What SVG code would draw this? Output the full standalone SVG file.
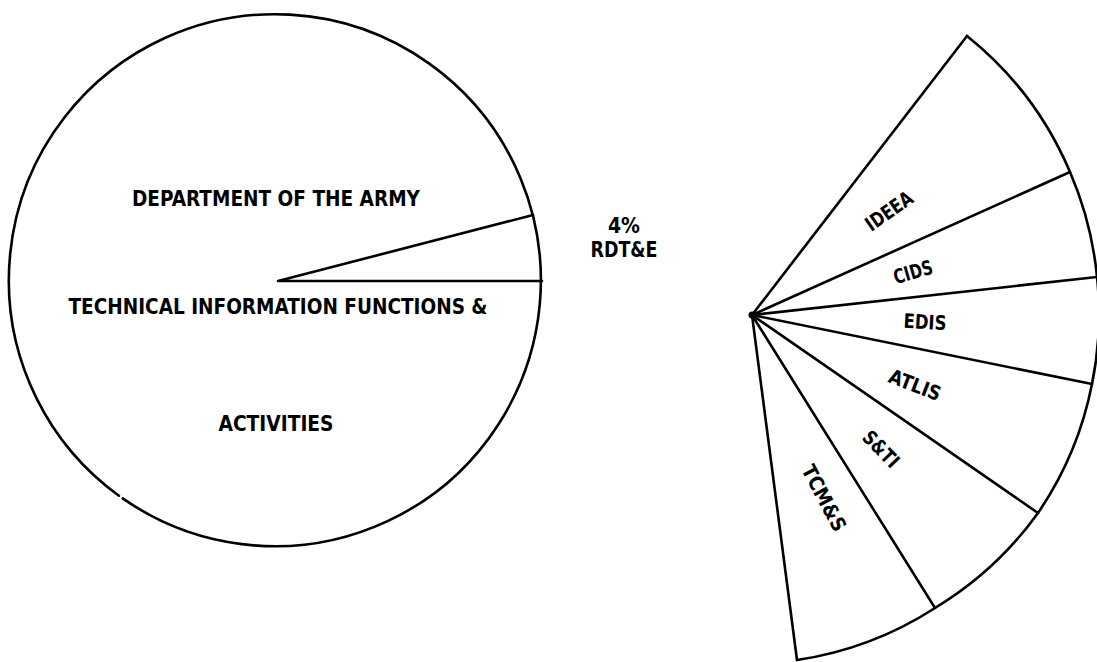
<svg xmlns="http://www.w3.org/2000/svg" width="1097" height="662" viewBox="0 0 1097 662">
<style>
.ln{fill:none;stroke:#000;stroke-width:2.6;stroke-linecap:round;stroke-linejoin:round}
.t{font-family:'DejaVu Sans Condensed','DejaVu Sans','Liberation Sans',sans-serif;font-stretch:condensed;font-weight:bold;fill:#000;text-anchor:middle}
.m{font-size:21px}
.f{font-size:20px}
</style>
<rect width="1097" height="662" fill="#fff"/>
<g id="pie">
<path class="ln" d="M 118.9 495.7 A 266 266 0 1 1 122.7 498.4"/>
</g>
<g id="connectors">
<polyline class="ln" points="533,215 278,281 542,281"/>
<g id="fan-lines">
<line class="ln" x1="752" y1="315" x2="967" y2="36"/>
<line class="ln" x1="752" y1="315" x2="1070" y2="172"/>
<line class="ln" x1="752" y1="315" x2="1097" y2="277"/>
<line class="ln" x1="752" y1="315" x2="1092" y2="384"/>
<line class="ln" x1="752" y1="315" x2="1038" y2="513"/>
<line class="ln" x1="752" y1="315" x2="935" y2="608"/>
<line class="ln" x1="752" y1="315" x2="797" y2="660"/>
</g>
</g>
<g id="fan">
<path class="ln" d="M 967 36 A 348 348 0 0 1 1070 172 A 348 348 0 0 1 1097 277 A 348 348 0 0 1 1092 384 A 348 348 0 0 1 1038 513 A 348 348 0 0 1 935 608 A 348 348 0 0 1 797 660"/>
<circle cx="752" cy="315" r="3.5" fill="#000"/>
</g>
<g id="label-army">
<text class="t m" x="276" y="206" textLength="288" lengthAdjust="spacingAndGlyphs">DEPARTMENT OF THE ARMY</text>
<text class="t m" x="278" y="314" textLength="419" lengthAdjust="spacingAndGlyphs">TECHNICAL INFORMATION FUNCTIONS &amp;</text>
<text class="t m" x="276" y="431" textLength="115" lengthAdjust="spacingAndGlyphs">ACTIVITIES</text>
</g>
<g id="label-rdte">
<text class="t m" x="624" y="233" textLength="32" lengthAdjust="spacingAndGlyphs">4%</text>
<text class="t m" x="624" y="257" textLength="67" lengthAdjust="spacingAndGlyphs">RDT&amp;E</text>
</g>
<g id="wedge-ideea"><text class="t f" transform="translate(889,211) rotate(-35)" y="7" textLength="53" lengthAdjust="spacingAndGlyphs">IDEEA</text></g>
<g id="wedge-cids"><text class="t f" transform="translate(913,272) rotate(-16)" y="7" textLength="40" lengthAdjust="spacingAndGlyphs">CIDS</text></g>
<g id="wedge-edis"><text class="t f" transform="translate(925,322) rotate(3)" y="7" textLength="43" lengthAdjust="spacingAndGlyphs">EDIS</text></g>
<g id="wedge-atlis"><text class="t f" transform="translate(915,385) rotate(21)" y="7" textLength="54" lengthAdjust="spacingAndGlyphs">ATLIS</text></g>
<g id="wedge-sti"><text class="t f" transform="translate(881,449) rotate(46)" y="7" textLength="43" lengthAdjust="spacingAndGlyphs">S&amp;TI</text></g>
<g id="wedge-tcms"><text class="t f" transform="translate(824,498) rotate(62)" y="7" textLength="72" lengthAdjust="spacingAndGlyphs">TCM&amp;S</text></g>
</svg>
